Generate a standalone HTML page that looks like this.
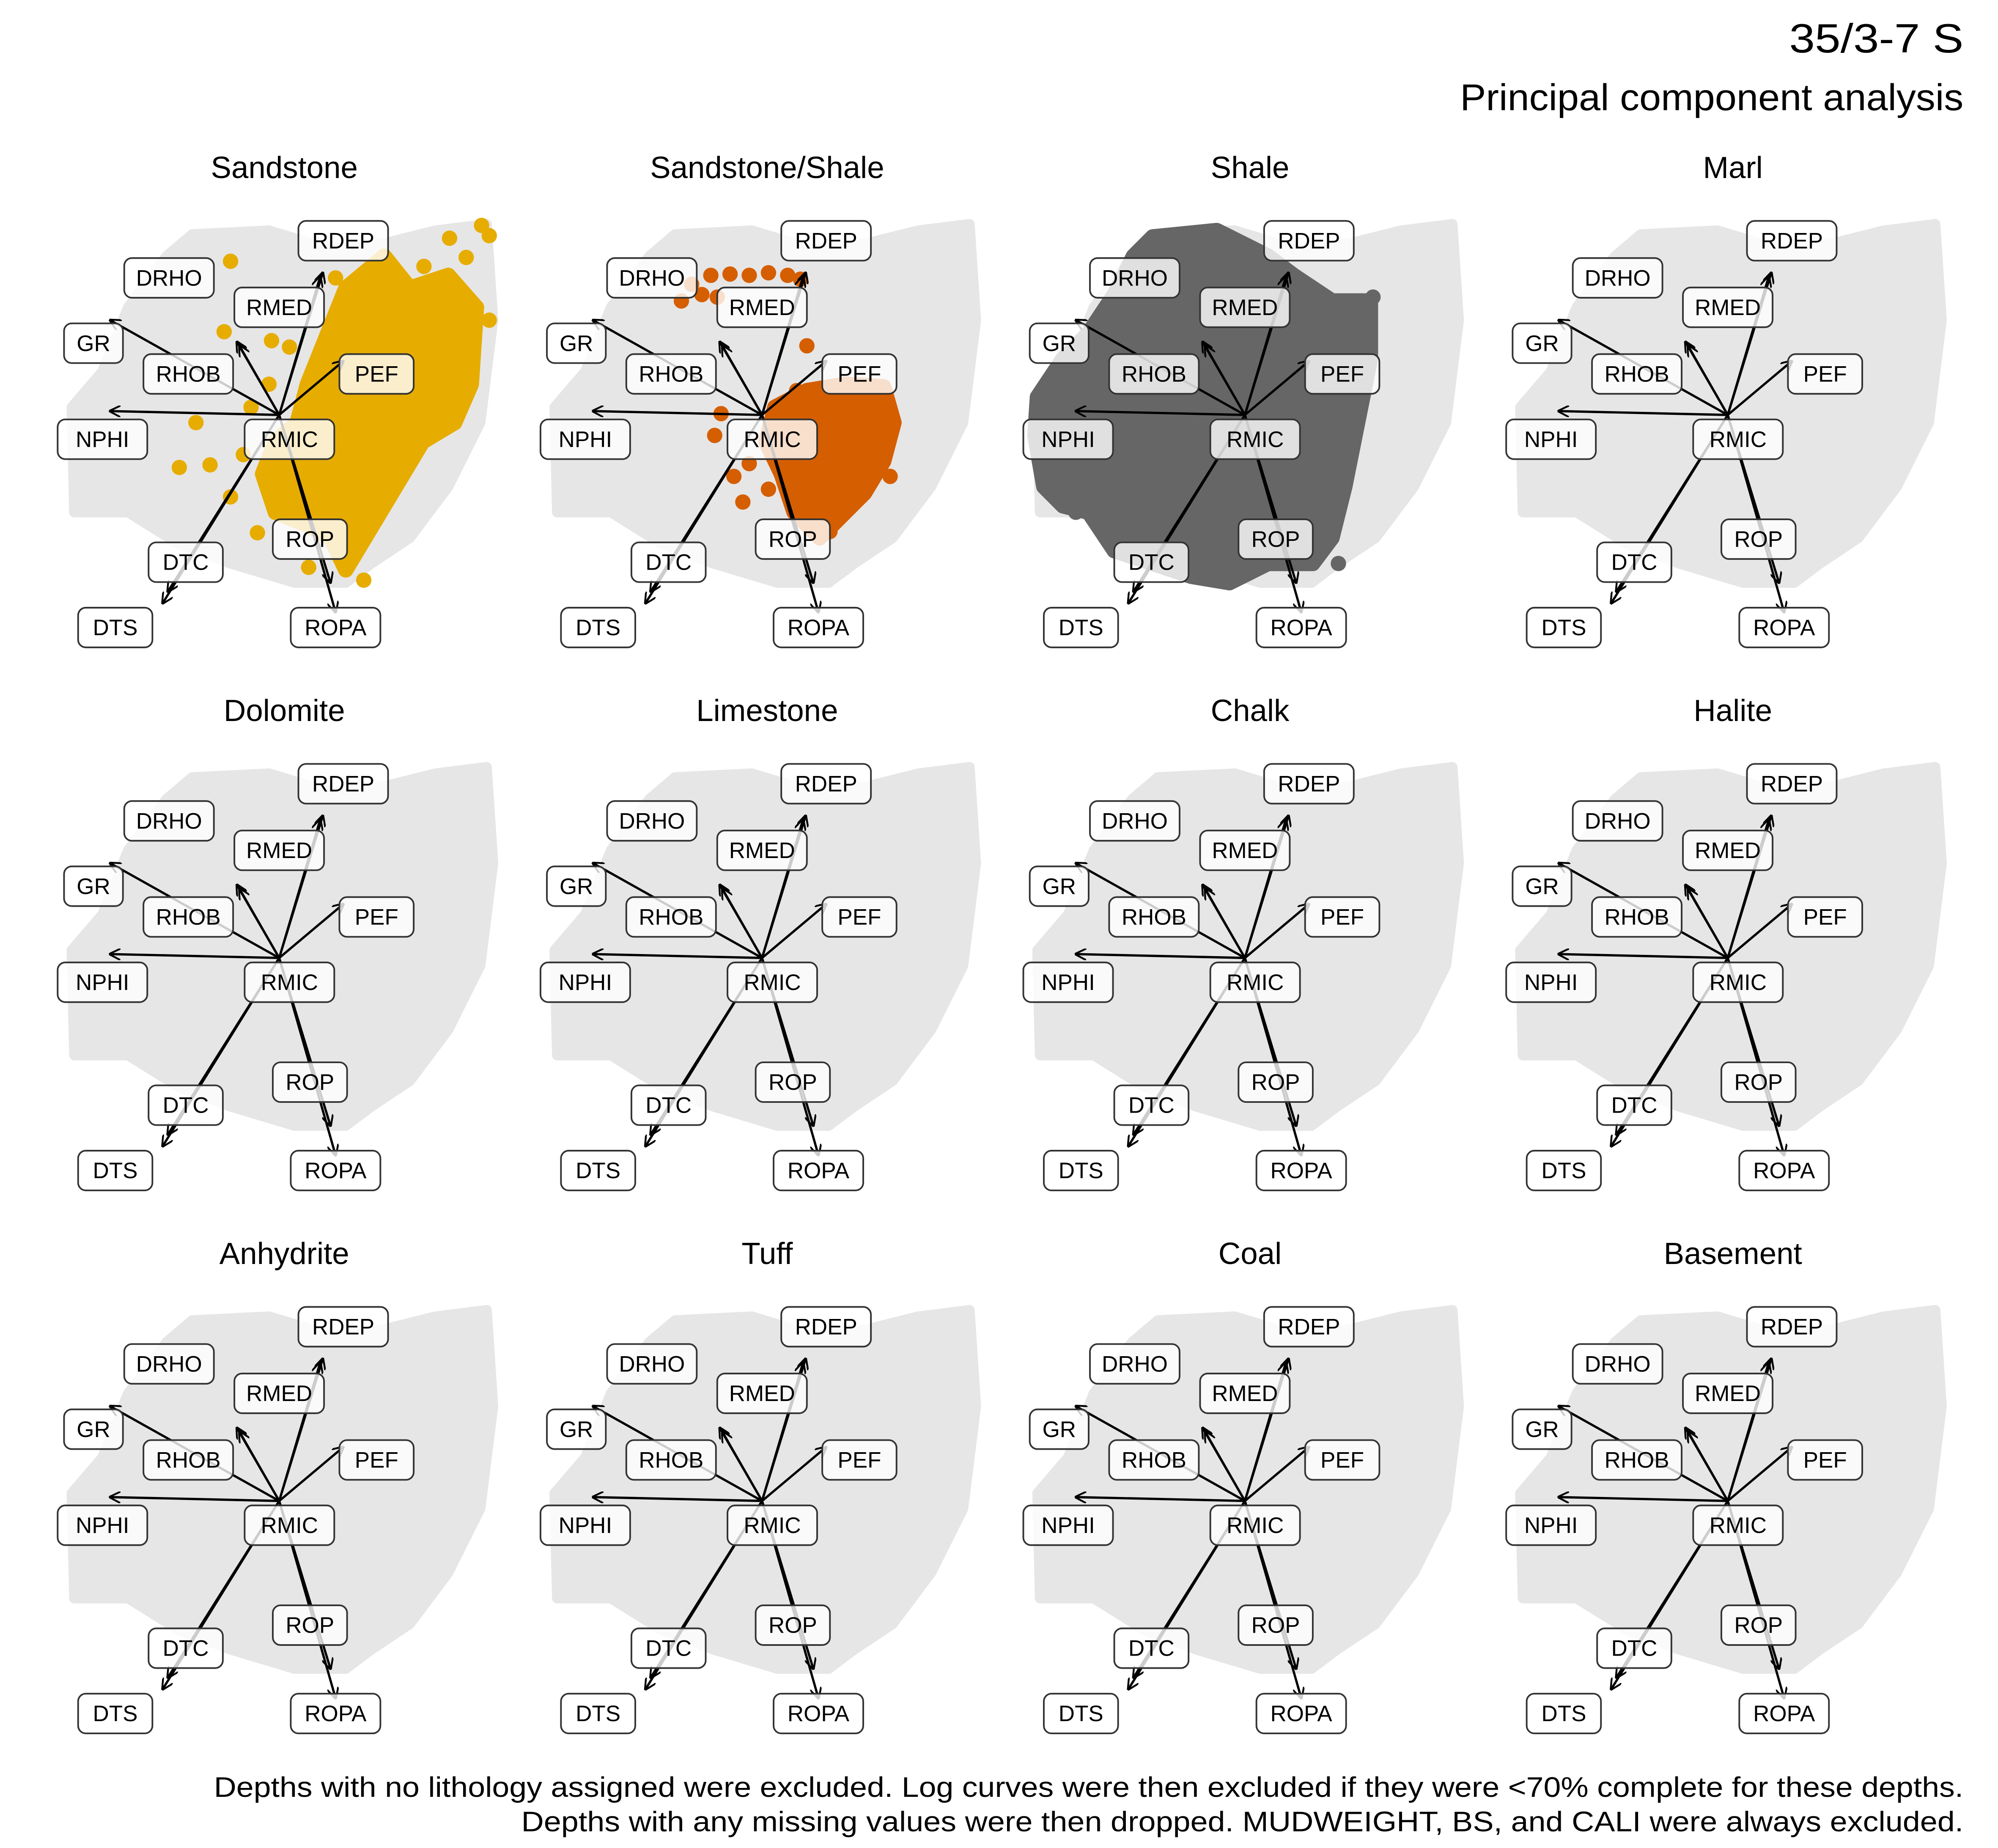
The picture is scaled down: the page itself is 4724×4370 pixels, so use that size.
<!DOCTYPE html>
<html><head><meta charset="utf-8"><style>
html,body{margin:0;padding:0;background:#fff}
svg{display:block}
text{font-family:"Liberation Sans",sans-serif;fill:#000}
</style></head><body>
<svg id="chart" xmlns="http://www.w3.org/2000/svg" width="4724" height="4370" viewBox="0 0 1560 1443" preserveAspectRatio="none">
<text x="1533" y="41" text-anchor="end" font-size="32" textLength="136" lengthAdjust="spacingAndGlyphs">35/3-7 S</text>
<text x="1533" y="86" text-anchor="end" font-size="29" textLength="393" lengthAdjust="spacingAndGlyphs">Principal component analysis</text>
<text x="1533" y="1403" text-anchor="end" font-size="22" textLength="1366" lengthAdjust="spacingAndGlyphs">Depths with no lithology assigned were excluded. Log curves were then excluded if they were &lt;70% complete for these depths.</text>
<text x="1533" y="1430" text-anchor="end" font-size="22" textLength="1126" lengthAdjust="spacingAndGlyphs">Depths with any missing values were then dropped. MUDWEIGHT, BS, and CALI were always excluded.</text>
<g id="panels"></g>
</svg>
<script>
const panelNames=["Sandstone","Sandstone/Shale","Shale","Marl","Dolomite","Limestone","Chalk","Halite","Anhydrite","Tuff","Coal","Basement"];
const loadingVars=["GR","NPHI","RHOB","DRHO","RMED","RDEP","PEF","DTC","DTS","ROP","ROPA","RMIC"];
const loadingPC1=[-3.3,-3.3,-0.775,-0.825,0.8,0.85,1.25,-2.175,-2.275,1.0,1.1,0];
const loadingPC2=[1.85,0.075,1.35,1.425,2.7,2.775,1.05,-3.45,-3.675,-3.275,-3.85,0];
// label placement (panel-relative px, repel layout)
const labelPos=[[73,268],[80,343],[147,292],[132,217],[218,240],[268,188],[294,292],[145,439],[90,490],[242,421],[262,490],[226,343]];
// background density region (PC units)
const cloudX=[-1.7,-0.2,1.05,2.05,3.05,4.05,4.175,3.925,3.3,2.55,1.8,1.3,0.3,-0.95,-1.95,-2.95,-4.0,-4.05,-3.45,-2.95,-2.2];
const cloudY=[3.525,3.6,3.225,3.35,3.6,3.725,1.85,-0.15,-1.4,-2.4,-2.9,-3.275,-3.275,-2.9,-2.525,-1.9,-1.9,0.15,0.85,2.1,3.1];
const sandHullX=[0.35,0.55,1.05,1.3,2.05,2.55,3.3,3.85,3.75,3.425,2.8,2.425,2.05,1.675,1.3,1.0,0.55,-0.075,-0.325,-0.075];
const sandHullY=[-0.15,0.6,1.85,2.475,3.1,2.475,2.725,2.1,0.6,-0.15,-0.525,-1.15,-1.775,-2.4,-3.025,-2.4,-2.15,-1.9,-1.15,-0.525];
const sandPtsX=[-0.95,-1.625,-1.95,-1.35,3.325,3.95,4.1,3.65,4.1,3.275,1.65,1.5,2.825,3.15,1.625,1.1,-0.15,0.2,-1.075,-0.95,-0.7,-0.425,0.575,-0.2,-0.55];
const sandPtsY=[3.0,-0.15,-1.025,-0.975,3.45,3.7,3.5,3.075,1.85,-0.125,-3.225,-2.3,2.9,2.6,2.675,2.675,1.45,1.325,1.625,-1.6,-0.775,-2.3,-2.975,0.6,0.15];
const ssHullX=[0.25,0.875,1.625,2.375,2.575,2.375,2.0,1.375,1.125,0.625,0.375,0.075];
const ssHullY=[0.15,0.475,0.6,0.55,-0.15,-0.9,-1.525,-2.15,-2.4,-1.9,-1.15,-0.525];
const ssPtsX=[-1.0,-0.625,-0.25,0.125,0.5,0.75,-1.175,-0.875,-1.375,-1.575,-0.925,-0.375,0.125,-0.8,1.325,2.5,-0.55,0.675,-0.25,0.875];
const ssPtsY=[2.725,2.75,2.725,2.775,2.725,2.65,2.35,2.3,2.55,2.225,-0.4,-1.7,-1.45,0.025,-2.275,-1.2,-1.2,0.475,-0.95,1.35];
const shHullX=[-1.8,-0.55,0.45,0.95,1.7,2.45,2.45,2.2,1.95,1.7,1.325,0.45,-0.3,-1.05,-1.8,-2.55,-3.05,-3.55,-3.925,-4.1,-4.05,-3.55,-3.05,-2.55,-2.175];
const shHullY=[3.475,3.6,3.1,2.725,2.225,2.225,1.1,-0.15,-1.4,-2.4,-2.9,-2.9,-3.275,-3.15,-2.9,-2.65,-1.9,-1.775,-1.4,-0.4,0.35,1.1,1.6,2.35,3.1];
const shPtsX=[1.825,-2.75,-3.3,2.5];
const shPtsY=[-2.9,-2.15,-1.9,2.3];

const NS="http://www.w3.org/2000/svg";
const root=document.getElementById('panels');
const K=40;
function sx(ox,v){return ox+218+v*K;}
function sy(oy,v){return oy+324-v*K;}
function mk(tag,attrs,parent){const e=document.createElementNS(NS,tag);for(const k in attrs)e.setAttribute(k,attrs[k]);parent.appendChild(e);return e;}
function poly(g,ox,oy,xs,ys,fill,sw){
  const pts=xs.map((x,i)=>sx(ox,x)+","+sy(oy,ys[i])).join(" ");
  return mk('polygon',{points:pts,fill:fill,stroke:fill,'stroke-width':sw,'stroke-linejoin':'round'},g);
}
const defs=mk('defs',{},document.getElementById('chart'));
const mkr=mk('marker',{id:'ah',viewBox:'0 0 10 10',refX:'9',refY:'5',markerWidth:'9',markerHeight:'9',markerUnits:'userSpaceOnUse',orient:'auto'},defs);
mk('path',{d:'M0,0 L10,5 L0,10',fill:'none',stroke:'#000','stroke-width':'1.6'},mkr);

panelNames.forEach((name,p)=>{
  const col=p%4,row=Math.floor(p/4);
  const ox=col*377,oy=row*424;
  const g=mk('g',{},root);
  
  
  const t=mk('text',{x:ox+222,y:oy+139,'text-anchor':'middle','font-size':'24'},g);
  t.textContent=name;
  
  
  const bg=poly(g,ox,oy,cloudX,cloudY,'#e6e6e6',8);
  
  
  let hx=null,hy=null,px=null,py=null,c=null;
  if(p===0){hx=sandHullX;hy=sandHullY;px=sandPtsX;py=sandPtsY;c='#e6ac00';}
  if(p===1){hx=ssHullX;hy=ssHullY;px=ssPtsX;py=ssPtsY;c='#d55e00';}
  if(p===2){hx=shHullX;hy=shHullY;px=shPtsX;py=shPtsY;c='#666666';}
  if(hx){
    const h=poly(g,ox,oy,hx,hy,c,12);
    
    
    px.forEach((x,i)=>{
      const d=mk('circle',{cx:sx(ox,x),cy:sy(oy,py[i]),r:6,fill:c},g);
      
      
    });
  }
  loadingVars.forEach((v,i)=>{
    if(v==='RMIC')return;
    const a=mk('line',{x1:sx(ox,0),y1:sy(oy,0),x2:sx(ox,loadingPC1[i]),y2:sy(oy,loadingPC2[i]),stroke:'#000','stroke-width':'1.8','marker-end':'url(#ah)'},g);
    
    
  });
  loadingVars.forEach((v,i)=>{
    const [lx,ly]=labelPos[i];
    const w=v.length*12+22,h=31;
    const lg=mk('g',{},g);
    
    
    mk('rect',{x:ox+lx-w/2,y:oy+ly-h/2,width:w,height:h,rx:6,fill:'rgba(255,255,255,0.8)',stroke:'#333','stroke-width':'1.3'},lg);
    const tt=mk('text',{x:ox+lx,y:oy+ly+6,'text-anchor':'middle','font-size':'17.5',fill:'#222'},lg);
    tt.textContent=v;
  });
});
</script>
</body></html>
